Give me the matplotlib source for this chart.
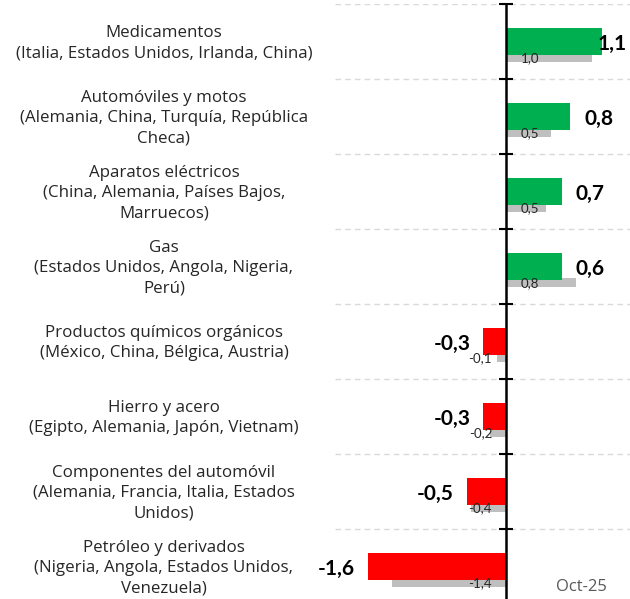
import matplotlib
matplotlib.use("Agg")
import matplotlib.pyplot as plt
from matplotlib import transforms

plt.rcParams['font.family'] = ['Lato', 'DejaVu Sans']

# Categories (product + main origin countries)
categories = [
    "Medicamentos\n(Italia, Estados Unidos, Irlanda, China)",
    "Automóviles y motos\n(Alemania, China, Turquía, República\nCheca)",
    "Aparatos eléctricos\n(China, Alemania, Países Bajos,\nMarruecos)",
    "Gas\n(Estados Unidos, Angola, Nigeria,\nPerú)",
    "Productos químicos orgánicos\n(México, China, Bélgica, Austria)",
    "Hierro y acero\n(Egipto, Alemania, Japón, Vietnam)",
    "Componentes del automóvil\n(Alemania, Francia, Italia, Estados\nUnidos)",
    "Petróleo y derivados\n(Nigeria, Angola, Estados Unidos,\nVenezuela)",
]

# current month contribution (bar lengths) and shown labels
current = [1.10, 0.74, 0.64, 0.64, -0.26, -0.26, -0.45, -1.59]
current_labels = ["1,1", "0,8", "0,7", "0,6", "-0,3", "-0,3", "-0,5", "-1,6"]

# previous period (grey bars)
previous = [0.99, 0.52, 0.46, 0.80, -0.10, -0.18, -0.40, -1.31]
previous_labels = ["1,0", "0,5", "0,5", "0,8", "-0,1", "-0,2", "-0,4", "-1,4"]

period = "Oct-25"

GREEN = "#00b050"
RED = "#ff0000"
GREY = "#bfbfbf"

fig = plt.figure(figsize=(6.3, 5.99), dpi=100)
ax = fig.add_axes([335 / 630, -5 / 599, 1 - 335 / 630, 600 / 599])

y = list(range(len(categories)))
xmin, xmax = -1.966, 1.425

ax.barh([i + 0.207 for i in y], previous, height=0.12, color=GREY, zorder=2)
ax.barh(y, current, height=0.347,
        color=[GREEN if v > 0 else RED for v in current], zorder=3)

ax.set_xlim(xmin, xmax)
ax.set_ylim(len(categories) - 0.5, -0.5)

# dashed separators between categories
for b in range(len(categories)):
    ax.axhline(b - 0.5, color="#d9d9d9", lw=1, dashes=(4, 3), zorder=1)

# vertical axis through zero
for s in ["top", "right", "bottom"]:
    ax.spines[s].set_visible(False)
ax.spines["left"].set_position(("data", 0))
ax.spines["left"].set_linewidth(1.8)
ax.spines["left"].set_zorder(4)
ax.set_yticks([b - 0.5 for b in range(len(categories) + 1)])
ax.set_yticklabels([])
ax.tick_params(axis="y", direction="inout", length=9.4, width=1.5)
ax.set_xticks([])

# value labels
big = dict(fontsize=15, fontweight="bold", color="black", zorder=5,
           textcoords="offset pixels", va="center_baseline")
for i, (v, lab) in enumerate(zip(current, current_labels)):
    if v > 0:
        if v + 0.5 > xmax:
            ax.annotate(lab, (xmax, i), xytext=(-3, 0), ha="right", **big)
        else:
            ax.annotate(lab, (v, i), xytext=(14, 0), ha="left", **big)
    else:
        ax.annotate(lab, (v, i), xytext=(-13, 0), ha="right", **big)

small = dict(fontsize=9.5, color="#262626", zorder=5,
             textcoords="offset pixels", va="center_baseline")
for i, (v, lab) in enumerate(zip(previous, previous_labels)):
    if v > 0:
        ax.annotate(lab, (0, i + 0.207), xytext=(15, 0), ha="left", **small)
    else:
        ax.annotate(lab, (0, i + 0.207), xytext=(-14, 0), ha="right", **small)

# category labels, centred in the left area
trans = transforms.blended_transform_factory(fig.transFigure, ax.transData)
for i, c in enumerate(categories):
    ax.text(164 / 630, i + 0.02, c, transform=trans, ha="center", va="center",
            multialignment="center", fontsize=12.2, linespacing=1.36,
            family=["Open Sans", "DejaVu Sans"], color="#262626", clip_on=False)

fig.text(581 / 630, 1 - 587 / 599, period, ha="center", va="center",
         fontsize=12, family=["Open Sans", "DejaVu Sans"], color="#595959")

fig.savefig("out.png", dpi=100)
